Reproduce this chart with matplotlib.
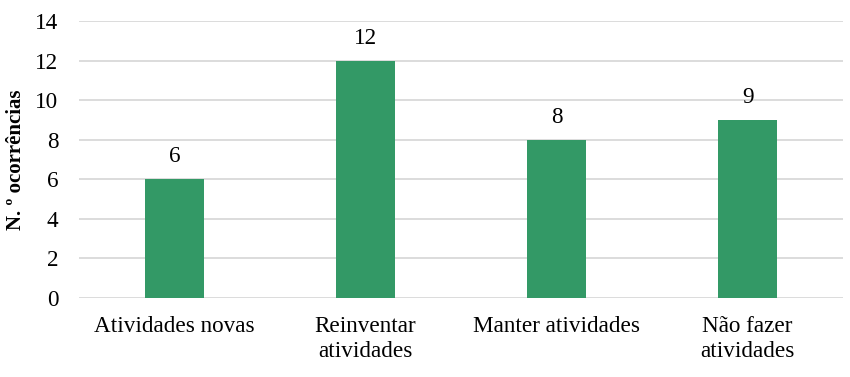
import matplotlib.pyplot as plt

categorias = ["Atividades novas", "Reinventar\natividades", "Manter atividades", "Não fazer\natividades"]
ocorrencias = [6, 12, 8, 9]
yticks = [0, 2, 4, 6, 8, 10, 12, 14]

plt.rcParams['font.family'] = ['Liberation Serif', 'DejaVu Serif']

fig = plt.figure(figsize=(8.5, 3.77), dpi=100)
ax = fig.add_axes([0.093, 0.21, 0.899, 0.734])

x = range(len(categorias))
bars = ax.bar(x, ocorrencias, width=0.31, color="#339966", zorder=3)
for b, v in zip(bars, ocorrencias):
    ax.text(b.get_x() + b.get_width() / 2, v + 0.6, str(v), ha="center", va="bottom",
            fontsize=16.7, color="#000000")

ax.set_xlim(-0.5, len(categorias) - 0.5)
ax.set_ylim(0, 14)
ax.set_yticks(yticks)
ax.set_xticks(list(x))
ax.set_xticklabels(categorias, fontsize=16.7, linespacing=1.25)
ax.tick_params(axis="y", labelsize=16.7, length=0, pad=15)
ax.tick_params(axis="x", length=0, pad=13)
ax.grid(axis="y", color="#d9d9d9", linewidth=1.3, zorder=0)
for s in ax.spines.values():
    s.set_visible(False)

# y label placed by hand, centred on the plot height
fig.text(16 / 850, 1 - 160 / 377, "N. º ocorrências", rotation=90, ha="center", va="center",
         fontsize=15, fontweight="bold")

fig.savefig("out.png", dpi=100)
